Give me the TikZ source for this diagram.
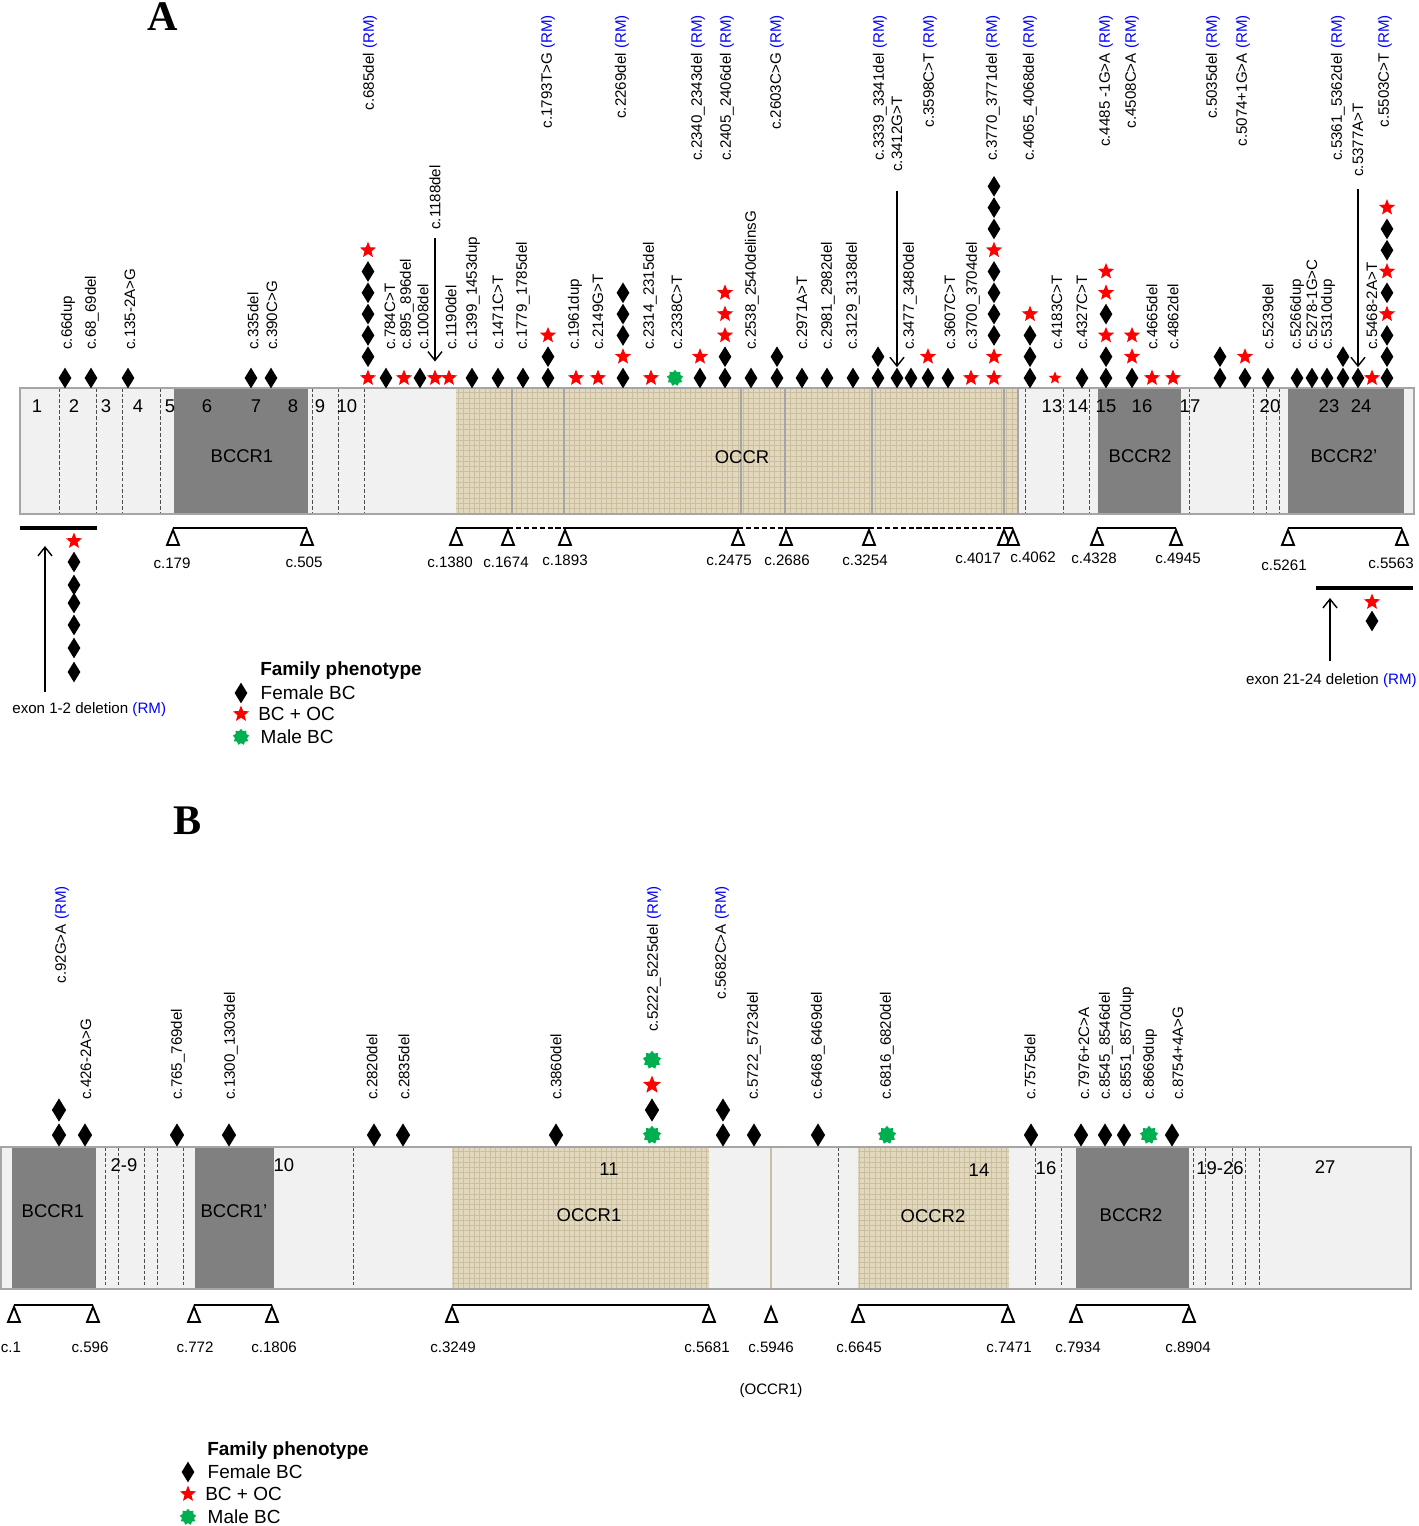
\documentclass[tikz,border=0pt]{standalone}
\usepackage{fontspec}
\setmainfont{Liberation Sans}
\newfontfamily\panelfont{Liberation Serif}
\usetikzlibrary{shapes.geometric,arrows.meta,positioning,patterns}
\definecolor{rmBlue}{RGB}{0,0,255}
\definecolor{ovRed}{RGB}{255,0,0}
\definecolor{maleGreen}{RGB}{0,176,80}
\definecolor{barGray}{RGB}{241,241,241}
\definecolor{edgeGray}{RGB}{165,165,165}
\definecolor{regionDark}{RGB}{128,128,128}
\definecolor{occrTan}{RGB}{226,216,190}
\definecolor{occrLine}{RGB}{204,191,160}
\newcommand{\lblsize}{\fontsize{8.6}{10}\selectfont}
\newcommand{\rmtag}{\textcolor{rmBlue}{(RM)}}
\tikzset{
  fbc/.style       = {diamond, fill=black, inner sep=0pt, minimum width=0.26cm,
                      minimum height=0.42cm},
  bcoc/.style      = {star, star points=5, star point ratio=2.3, fill=ovRed,
                      inner sep=0pt, minimum size=0.34cm},
  bcocSmall/.style = {bcoc, minimum size=0.27cm},
  mbc/.style       = {star, star points=9, star point ratio=1.35, fill=maleGreen,
                      inner sep=0pt, minimum size=0.33cm},
  mutLbl/.style    = {rotate=90, font=\lblsize, inner sep=0pt},
  posLbl/.style    = {font=\lblsize, inner sep=0pt},
  exonLbl/.style   = {font=\fontsize{10.5}{12}\selectfont, inner sep=0pt},
  legTxt/.style    = {font=\fontsize{10.8}{12}\selectfont, inner sep=0pt},
  panelTag/.style  = {font=\panelfont\bfseries\fontsize{24}{24}\selectfont, inner sep=0pt},
  geneBar/.style   = {fill=barGray},
  barEdge/.style   = {draw=edgeGray, line width=0.8pt},
  darkBox/.style   = {fill=regionDark},
  tanBox/.style    = {fill=occrTan, postaction={pattern=grid, pattern color=occrLine}},
  exonSep/.style   = {draw=black!70, dash pattern=on 2pt off 1.2pt, line width=0.45pt},
  tanSep/.style    = {draw=edgeGray, line width=0.9pt},
  brk/.style       = {line width=1.1pt},
  brkDash/.style   = {line width=1.1pt, dash pattern=on 3pt off 1.5pt},
  triMark/.style   = {draw=black, fill=white, line width=1.1pt, line join=miter},
  delBar/.style    = {line width=2.8pt},
  mutArr/.style    = {-{Straight Barb[length=5pt,width=8pt]}, line width=0.8pt},
}

\begin{document}
\begin{tikzpicture}[x=0.02cm,y=-0.02cm]
  \useasboundingbox (0,0) rectangle (1418,1526);

  % panel A
  \node[panelTag](tagA) at (163,17) {A};
  \fill[geneBar] (20,388) rectangle (1414,514);
  \fill[darkBox] (174,388) rectangle (308,514);
  \fill[darkBox] (1098,388) rectangle (1181,514);
  \fill[darkBox] (1288,388) rectangle (1404,514);
  \path[tanBox] (456,388) rectangle (1018,514);
  \foreach \x in {512,564,741,785,872,1004,1018}{\draw[tanSep](\x,388)--(\x,514);}
  \foreach \x in {59,96,122,160,312,338,364,1025,1063,1089,1189,1253,1266,1279}
    {\draw[exonSep](\x,388)--(\x,514);}
  \draw[barEdge] (20,388) rectangle (1414,514);
  \foreach \x/\n in {37/1,74/2,106/3,138/4,170/5,207/6,256/7,293/8,320/9,347/10,
    1052/13,1078/14,1106/15,1142/16,1190/17,1270/20,1329/23,1361/24}
    {\node[exonLbl](exA\n) at (\x,406) {\n};}
  \node[exonLbl](bccr1A) at (242,456) {BCCR1};
  \node[exonLbl](occrA) at (742,457) {OCCR};
  \node[exonLbl](bccr2A) at (1140,456) {BCCR2};
  \node[exonLbl](bccr2pA) at (1344,456) {BCCR2’};

  \foreach \x/\seq in {65/{fbc},91/{fbc},128/{fbc},251/{fbc},271/{fbc},
    368/{bcoc,fbc,fbc,fbc,fbc,fbc,bcoc},386/{fbc},404/{bcoc},420/{fbc},435/{bcoc},
    449/{bcoc},472/{fbc},498/{fbc},523/{fbc},548/{fbc,fbc,bcoc},576/{bcoc},
    598/{bcoc},623/{fbc,bcoc,fbc,fbc,fbc},651/{bcoc},675/{mbc},700/{fbc,bcoc},
    725/{fbc,fbc,bcoc,bcoc,bcoc},751/{fbc},777/{fbc,fbc},802/{fbc},827/{fbc},
    853/{fbc},878/{fbc,fbc},897/{fbc},911/{fbc},928/{fbc,bcoc},948/{fbc},971/{bcoc},
    994/{bcoc,bcoc,fbc,fbc,fbc,fbc,bcoc,fbc,fbc,fbc},1030/{fbc,fbc,fbc,bcoc},
    1055/{bcocSmall},1082/{fbc},1106/{fbc,fbc,bcoc,fbc,bcoc,bcoc},
    1132/{fbc,bcoc,bcoc},1152/{bcoc},1173/{bcoc},1220/{fbc,fbc},1245/{fbc,bcoc},
    1268/{fbc},1297/{fbc},1312/{fbc},1327/{fbc},1343/{fbc,fbc},1358/{fbc},
    1372/{bcoc},1387/{fbc,fbc,fbc,bcoc,fbc,bcoc,fbc,fbc,bcoc}}
    {\foreach \m [count=\k from 0] in \seq {\node[\m](a\x-\k) at (\x,{378-21.3*\k}) {};}}

  \foreach \x/\lbl in {68/c.66dup,92/c.68\_69del,130/c.135-2A>G,253/c.335del,
    272/c.390C>G,390/c.784C>T,407/c.895\_896del,423/c.1008del,451/c.1190del,
    473/c.1399\_1453dup,498/c.1471C>T,523/c.1779\_1785del,575/c.1961dup,
    598/c.2149G>T,650/c.2314\_2315del,677/c.2338C>T,752/c.2538\_2540delinsG,
    802/c.2971A>T,828/c.2981\_2982del,853/c.3129\_3138del,910/c.3477\_3480del,
    950/c.3607C>T,973/c.3700\_3704del,1057/c.4183C>T,1082/c.4327C>T,
    1152/c.4665del,1173/c.4862del,1268/c.5239del,1297/c.5266dup,
    1312/c.5278-1G>C,1328/c.5310dup,1372/c.5468-2A>T}
    {\node[mutLbl,anchor=west](la\x) at (\x,350) {\lbl};}
  \foreach \x/\lbl in {370/c.685del,548/c.1793T>G,622/c.2269del,698/c.2340\_2343del,
    727/c.2405\_2406del,777/c.2603C>G,880/c.3339\_3341del,930/c.3598C>T,
    993/c.3770\_3771del,1030/c.4065\_4068del,1106/{c.4485 -1G>A},1132/c.4508C>A,
    1213/c.5035del,1243/c.5074+1G>A,1338/c.5361\_5362del,1385/c.5503C>T}
    {\node[mutLbl,anchor=east](lt\x) at (\x,15) {\lbl\ \rmtag};}

  \node[mutLbl,anchor=west](lr435) at (435,230) {c.1188del};
  \node[mutLbl,anchor=west](lr897) at (897,172) {c.3412G>T};
  \node[mutLbl,anchor=west](lr1358) at (1358,177) {c.5377A>T};
  \draw[mutArr,shorten <=4.5pt,shorten >=4pt](lr435.west)--(a435-0.north);
  \draw[mutArr,shorten <=11pt](lr897.west)--(a897-0.north);
  \draw[mutArr,shorten <=7pt](lr1358.west)--(a1358-0.north);

  \foreach \x/\lx/\c/\ly in {173/172/179/563,307/304/505/562,456/450/1380/562,
    508/506/1674/562,565/565/1893/560,738/729/2475/560,786/787/2686/560,
    869/865/3254/560,1004/978/4017/558,1013/1033/4062/557,1097/1094/4328/558,
    1176/1178/4945/558,1288/1284/5261/565,1402/1391/5563/563}
    {\coordinate(tA\c) at (\x,528);
     \node[posLbl](pA\c) at (\lx,\ly) {c.\c};}
  \foreach \a/\b in {179/505,1380/1674,1893/2475,2686/3254,4017/4062,4328/4945,5261/5563}
    {\draw[brk](tA\a)--(tA\b);}
  \foreach \a/\b in {1674/1893,2475/2686,3254/4017}{\draw[brkDash](tA\a)--(tA\b);}
  \foreach \c in {179,505,1380,1674,1893,2475,2686,3254,4017,4062,4328,4945,5261,5563}
    {\draw[triMark](tA\c)++(0,2)--++(-6,15)--++(12,0)--cycle;}

  \coordinate(delL1) at (20,528);
  \coordinate(delL2) at (97,528);
  \draw[delBar](delL1)--(delL2);
  \foreach \y/\m [count=\k] in {541/bcoc,562/fbc,585/fbc,603/fbc,625/fbc,648/fbc,672/fbc}
    {\node[\m](dl\k) at (74,\y) {};}
  \coordinate(e12tail) at (45,692);
  \coordinate(e12head) at (45,546);
  \draw[mutArr](e12tail)--(e12head);
  \node[posLbl,anchor=west](e12lbl) at (12,710) {exon 1-2 deletion \rmtag};

  \coordinate(delR1) at (1316,588);
  \coordinate(delR2) at (1413,588);
  \draw[delBar](delR1)--(delR2);
  \node[bcoc](dr1) at (1372,602) {};
  \node[fbc](dr2) at (1372,621) {};
  \coordinate(e21tail) at (1330,661);
  \coordinate(e21head) at (1330,598);
  \draw[mutArr](e21tail)--(e21head);
  \node[posLbl,anchor=east](e21lbl) at (1417,681) {exon 21-24 deletion \rmtag};

  \node[legTxt,anchor=west,font=\fontsize{10.8}{12}\selectfont\bfseries](legA) at (260,671) {Family phenotype};
  \node[fbc](legA1) at (241,693) {};
  \node[bcoc](legA2) at (241,714) {};
  \node[mbc](legA3) at (241,737) {};
  \node[legTxt,anchor=west,right=0.25cm of legA1]{Female BC};
  \node[legTxt,anchor=west,right=0.23cm of legA2]{BC + OC};
  \node[legTxt,anchor=west,right=0.24cm of legA3]{Male BC};

  % panel B
  \node[panelTag](tagB) at (188,821) {B};
  \fill[geneBar] (1,1147) rectangle (1411,1289);
  \fill[darkBox] (12,1147) rectangle (96,1289);
  \fill[darkBox] (195,1147) rectangle (274,1289);
  \fill[darkBox] (1076,1147) rectangle (1189,1289);
  \path[tanBox] (452,1147) rectangle (709,1289);
  \path[tanBox] (858,1147) rectangle (1009,1289);
  \draw[occrLine,line width=0.6pt] (771,1147)--(771,1289);
  \foreach \x in {105.5,118,144.5,157,183.5,353,838.5,1035,1061.5,1193,1205.5,1232,1245,1259}
    {\draw[exonSep](\x,1147)--(\x,1289);}
  \draw[barEdge] (1,1147) rectangle (1411,1289);
  \foreach \x/\y/\n in {124/1165/2-9,284/1165/10,609/1169/11,979/1170/14,
    1046/1168/16,1220/1168/19-26,1325/1167/27}
    {\node[exonLbl](exB\n) at (\x,\y) {\n};}
  \node[exonLbl](bccr1B) at (53,1211) {BCCR1};
  \node[exonLbl](bccr1pB) at (234,1211) {BCCR1’};
  \node[exonLbl](occr1B) at (589,1215) {OCCR1};
  \node[exonLbl](occr2B) at (933,1216) {OCCR2};
  \node[exonLbl](bccr2B) at (1131,1215) {BCCR2};

  \foreach \x/\seq in {59/{fbc,fbc},85/{fbc},177/{fbc},229/{fbc},374/{fbc},403/{fbc},
    556/{fbc},652/{mbc,fbc,bcoc,mbc},723/{fbc,fbc},754/{fbc},818/{fbc},887/{mbc},
    1031/{fbc},1081/{fbc},1105/{fbc},1124/{fbc},1149/{mbc},1172/{fbc}}
    {\foreach \m [count=\k from 0] in \seq {\node[\m,scale=1.12](b\x-\k) at (\x,{1135-25*\k}) {};}}

  \foreach \x/\lbl in {86/c.426-2A>G,178/c.765\_769del,231/c.1300\_1303del,
    372/c.2820del,404/c.2835del,556/c.3860del,754/c.5722\_5723del,
    818/c.6468\_6469del,887/c.6816\_6820del,1030/c.7575del,1084/c.7976+2C>A,
    1106/c.8545\_8546del,1127/c.8551\_8570dup,1150/c.8669dup,1178/c.8754+4A>G}
    {\node[mutLbl,anchor=west](lb\x) at (\x,1100) {\lbl};}
  \foreach \x/\lbl in {62/c.92G>A,654/c.5222\_5225del,722/c.5682C>A}
    {\node[mutLbl,anchor=east](ltb\x) at (\x,886) {\lbl\ \rmtag};}

  \foreach \x/\lx/\c in {14/11/1,93/90/596,194/195/772,272/274/1806,452/453/3249,
    709/707/5681,771/771/5946,858/859/6645,1008/1009/7471,1076/1078/7934,1189/1188/8904}
    {\coordinate(tB\c) at (\x,1305);
     \node[posLbl](pB\c) at (\lx,1347) {c.\c};}
  \foreach \a/\b in {1/596,772/1806,3249/5681,6645/7471,7934/8904}{\draw[brk](tB\a)--(tB\b);}
  \foreach \c in {1,596,772,1806,3249,5681,5946,6645,7471,7934,8904}
    {\draw[triMark](tB\c)++(0,2)--++(-6,15)--++(12,0)--cycle;}
  \node[posLbl,below=0.6cm of pB5946](occr1note){(OCCR1)};

  \node[legTxt,anchor=west,font=\fontsize{10.8}{12}\selectfont\bfseries](legB) at (207,1451) {Family phenotype};
  \node[fbc](legB1) at (188,1472) {};
  \node[bcoc](legB2) at (188,1494) {};
  \node[mbc](legB3) at (188,1517) {};
  \node[legTxt,anchor=west,right=0.25cm of legB1]{Female BC};
  \node[legTxt,anchor=west,right=0.23cm of legB2]{BC + OC};
  \node[legTxt,anchor=west,right=0.24cm of legB3]{Male BC};
\end{tikzpicture}
\end{document}
